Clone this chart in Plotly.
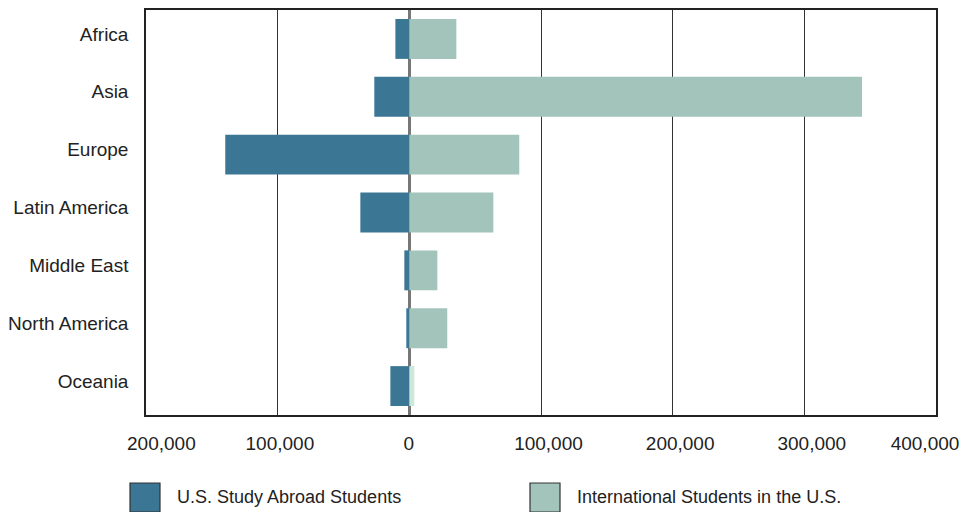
import plotly.graph_objects as go

regions = ["Africa", "Asia", "Europe", "Latin America", "Middle East", "North America", "Oceania"]
us_abroad = [10600, 26600, 139800, 37200, 3800, 2300, 14400]
intl_in_us = [35700, 343800, 83500, 63800, 21300, 28800, 3800]
tick_vals = [-200000, -100000, 0, 100000, 200000, 300000, 400000]
tick_text = ["200,000", "100,000", "0", "100,000", "200,000", "300,000", "400,000"]
series_names = ["U.S. Study Abroad Students", "International Students in the U.S."]

BLUE = "#3b7795"
GREEN = "#a2c4bb"
intl_colors = [GREEN] * 6 + ["#cde8d8"]

FONT = "Liberation Sans, Arial, sans-serif"
FS = 19
NB = "\u00a0"
# small offsets of the tick labels as seen in the reference (leading spaces)
pad_left = [10, 5, 4, 7, 7, 7, 0]
tick_labels = [NB * a + t for t, a in zip(tick_text, pad_left)]

fig = go.Figure()
fig.add_trace(go.Bar(y=regions, x=[-v for v in us_abroad], orientation="h",
                     marker=dict(color=BLUE, line=dict(width=0)), name=series_names[0]))
fig.add_trace(go.Bar(y=regions, x=intl_in_us, orientation="h",
                     marker=dict(color=intl_colors, line=dict(width=0)), name=series_names[1]))

fig.update_layout(
    width=960, height=512,
    margin=dict(l=146, r=24, t=10, b=97),
    paper_bgcolor="white", plot_bgcolor="white",
    barmode="relative", bargap=0.31,
    showlegend=False,
    font=dict(family=FONT, size=FS, color="#222"),
)
fig.update_xaxes(
    range=[-200000, 400000], tickvals=tick_vals, ticktext=tick_labels,
    showgrid=True, gridcolor="#333", gridwidth=1,
    zeroline=True, zerolinecolor="#777", zerolinewidth=2.5,
    showline=True, linecolor="#222", linewidth=1.5, mirror=True,
    ticks="", ticklabelstandoff=10, ticklabelshift=-11, layer="above traces",
    automargin=False, ticklabeloverflow="allow",
)
fig.update_yaxes(
    autorange="reversed", range=[6.5, -0.5],
    showgrid=False, zeroline=False,
    showline=True, linecolor="#222", linewidth=1.5, mirror=True,
    ticks="", ticklabelstandoff=12, ticklabelshift=5, automargin=False,
)

# manual legend
def px_x(p):
    return (p - 146) / 790.0

def px_y(p):
    return (415 - p) / 405.0

legend_items = [(130, 175, BLUE, series_names[0]), (530, 575, GREEN, series_names[1])]
for sx, tx, col, name in legend_items:
    fig.add_shape(type="rect", xref="paper", yref="paper",
                  x0=px_x(sx), x1=px_x(sx + 30), y0=px_y(483), y1=px_y(512),
                  fillcolor=col, line=dict(color="#333", width=1.2))
    fig.add_annotation(xref="paper", yref="paper", x=px_x(tx), y=px_y(497),
                       xanchor="left", yanchor="middle", text=name, showarrow=False,
                       font=dict(family=FONT, size=18, color="#222"))

fig.write_html(
    "out.html",
    config={"displayModeBar": False},
    post_script="document.body.style.margin='0';document.body.style.padding='0';"
                "document.documentElement.style.overflow='hidden';",
)
